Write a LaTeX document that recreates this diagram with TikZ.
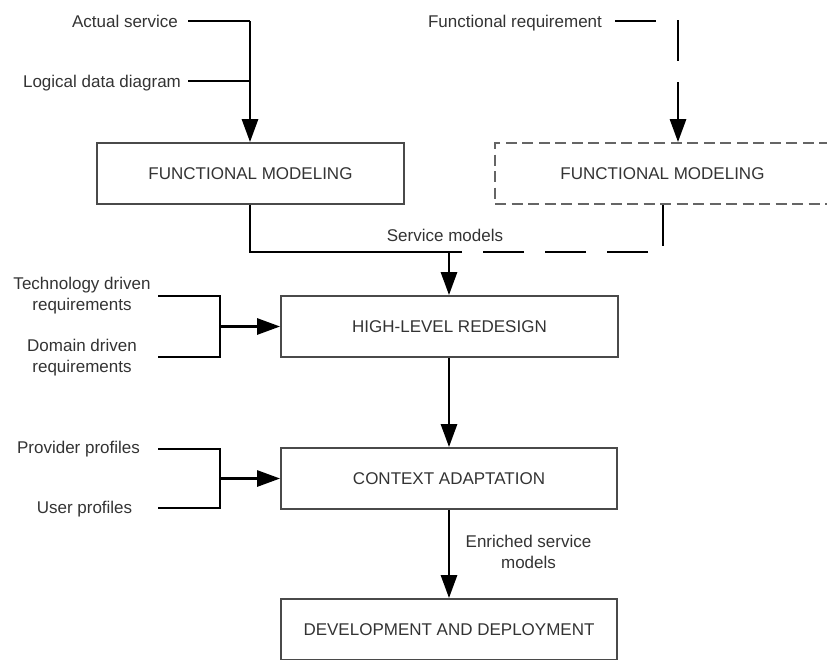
\documentclass[tikz,border=0pt]{standalone}
\usepackage{fontspec}
\setmainfont{Liberation Sans}
\usetikzlibrary{arrows.meta}
\definecolor{txt}{HTML}{333333}
\definecolor{edge}{HTML}{4A4A4A}
\tikzset{
  box/.style={draw=edge, line width=1.8pt, minimum height=61pt, inner sep=0pt, text=txt},
  dbox/.style={box, draw=edge!85, dash pattern=on 11pt off 5.5pt},
  lbl/.style={text=txt, inner sep=0pt, align=center},
  conn/.style={line width=2.8pt, black},
  dconn/.style={conn, dash pattern=on 41pt off 21pt},
  arr/.style={-{Triangle[length=23pt,width=16pt]}},
}
\begin{document}
\begin{tikzpicture}[x=1pt,y=-1pt,font=\fontsize{17}{21}\selectfont]
\useasboundingbox (0,0) rectangle (827,659);
\clip (0,0) rectangle (827,659);

% boxes
\node[box, minimum width=307pt] (fm1) at (250.5,173.5) {FUNCTIONAL MODELING};
\node[dbox, minimum width=335pt] (fm2) at (662.5,173.5) {FUNCTIONAL MODELING};
\node[box, minimum width=337pt] (hl) at (449.5,326.5) {HIGH-LEVEL REDESIGN};
\node[box, minimum width=336pt] (ca) at (449,478.5) {CONTEXT ADAPTATION};
\node[box, minimum width=336pt] (dd) at (449,629.5) {DEVELOPMENT AND DEPLOYMENT};

% input labels
\node[lbl, anchor=mid] (as) at (125,25) {Actual service};
\node[lbl, anchor=mid] (ldd) at (102,85) {Logical data diagram};
\node[lbl, anchor=mid] (fr) at (515,25) {Functional requirement};
\node[lbl] (tdr) at (82,296) {Technology driven\\requirements};
\node[lbl] (ddr) at (82,358) {Domain driven\\requirements};
\node[lbl, anchor=mid] (pp) at (78.5,451) {Provider profiles};
\node[lbl, anchor=mid] (up) at (84.5,511) {User profiles};
\node[lbl, anchor=mid] (sm) at (445,239) {Service models};
\node[lbl] (esm) at (528.5,552) {Enriched service\\models};

% coordinates
\coordinate (asA) at (188,21);
\coordinate (asB) at (250,21);
\coordinate (ldA) at (188,81);
\coordinate (ldB) at (250,81);
\coordinate (frA) at (615,21);
\coordinate (frB) at (678,21);
\coordinate (m1) at (250,252);
\coordinate (m2) at (663,252);
\coordinate (mj) at (449,252);
\coordinate (t1) at (158,296);
\coordinate (t2) at (220,296);
\coordinate (d1) at (158,357);
\coordinate (d2) at (220,357);
\coordinate (tj) at (220,326.5);
\coordinate (p1) at (158,449);
\coordinate (p2) at (220,449);
\coordinate (u1) at (158,508);
\coordinate (u2) at (220,508);
\coordinate (pj) at (220,478.5);

% connectors
\draw[conn] (asA) -- (asB);
\draw[conn, arr] (asB) -- (fm1.north -| asB);
\draw[conn] (ldA) -- (ldB);
\draw[dconn, arr] (frA) -- (frB) -- (fm2.north -| frB);
\draw[dconn] (fm2.south -| m2) -- (m2) -- (mj);
\draw[conn] (fm1.south -| m1) -- (m1) -- (mj);
\draw[conn, arr] (mj) -- (hl.north -| mj);
\draw[conn] (t1) -- (t2) -- (d2) -- (d1);
\draw[conn, arr] (tj) -- (hl.west |- tj);
\draw[conn, arr] (hl.south -| mj) -- (ca.north -| mj);
\draw[conn] (p1) -- (p2) -- (u2) -- (u1);
\draw[conn, arr] (pj) -- (ca.west |- pj);
\draw[conn, arr] (ca.south -| mj) -- (dd.north -| mj);
\end{tikzpicture}
\end{document}
